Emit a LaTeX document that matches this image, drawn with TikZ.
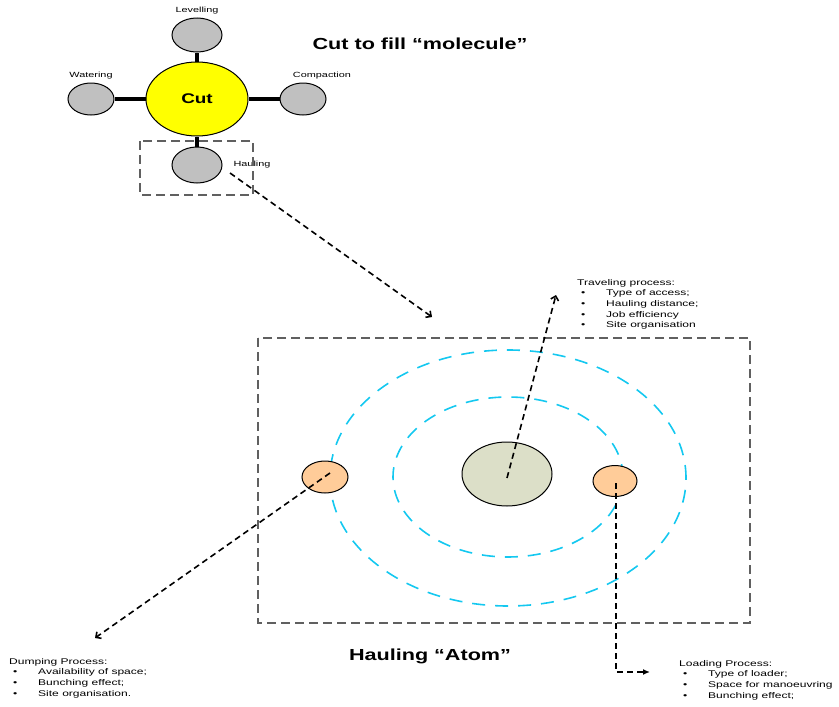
\documentclass[tikz,border=0pt]{standalone}
\usepackage{fontspec}
\setmainfont{Liberation Sans}
\newfontfamily\widefont[FakeStretch=1.45]{Liberation Sans}
\newfontfamily\widebold[FakeStretch=1.35]{Liberation Sans}
\usetikzlibrary{shapes.geometric,arrows.meta}
\definecolor{satgray}{RGB}{192,192,192}
\definecolor{cutyellow}{RGB}{255,255,0}
\definecolor{nuclgreen}{RGB}{220,223,200}
\definecolor{elecorange}{RGB}{255,204,153}
\definecolor{orbitcyan}{RGB}{20,200,240}
\definecolor{boxgray}{RGB}{96,96,96}
\newcommand{\pitem}[1]{\hspace*{4pt}\makebox[25pt][l]{\textbullet}#1}
\begin{document}
\begin{tikzpicture}[x=1pt,y=-1pt,
  sat/.style={ellipse,draw,line width=1pt,fill=satgray,inner sep=0pt,minimum width=48pt,minimum height=33pt},
  link/.style={line width=3.5pt},
  lbl/.style={font=\widefont\fontsize{7.5}{9}\selectfont,inner sep=0pt},
  proc/.style={font=\widefont\fontsize{8.3}{10.6}\selectfont,inner sep=0pt,align=left,anchor=north west},
  ttl/.style={font=\widebold\bfseries\fontsize{16}{18}\selectfont,inner sep=0pt},
  zone/.style={draw=boxgray,line width=2.4pt,dash pattern=on 9pt off 5pt},
  orbit/.style={draw=orbitcyan,line width=1.6pt,dash pattern=on 13pt off 10pt},
  flow/.style={line width=1.6pt,dash pattern=on 6pt off 4pt,-{Straight Barb[length=4pt,width=8pt]}}]
\useasboundingbox (0,0) rectangle (839,707);
% molecule
\node[ellipse,draw,line width=1pt,fill=cutyellow,inner sep=0pt,minimum width=102pt,minimum height=74pt,
  font=\widebold\bfseries\fontsize{14}{16}\selectfont] (cut) at (197,99) {Cut};
\node[sat,minimum width=50pt,minimum height=34pt] (level) at (197,35) {};
\node[sat,minimum width=46pt,minimum height=32pt] (water) at (91,99) {};
\node[sat,minimum width=46pt,minimum height=32pt] (compact) at (303,99) {};
\node[sat,minimum width=50pt,minimum height=36pt] (haul) at (197,165) {};
\draw[link] (cut) -- (level);
\draw[link] (cut) -- (water);
\draw[link] (cut) -- (compact);
\draw[link] (cut) -- (haul);
\node[lbl] at (197,11) {Levelling};
\node[lbl] at (91,76) {Watering};
\node[lbl] at (322,76) {Compaction};
\node[lbl] at (252,165) {Hauling};
\draw[zone] (140,141) rectangle (253,195);
\node[ttl] at (420,44) {Cut to fill “molecule”};
\coordinate (haulout) at (230,173);
\coordinate (atomin) at (432,317);
\draw[flow] (haulout) -- (atomin);
% atom
\draw[zone] (258,338) rectangle (750,623);
\draw[orbit] (508,478) ellipse [x radius=178pt,y radius=128pt];
\draw[orbit] (508,477) ellipse [x radius=115pt,y radius=80pt];
\node[ellipse,draw,line width=1pt,fill=nuclgreen,inner sep=0pt,minimum width=90pt,minimum height=64pt] (nucleus) at (507,474) {};
\node[ellipse,draw,line width=1pt,fill=elecorange,inner sep=0pt,minimum width=46pt,minimum height=32pt] (eleft) at (325,477) {};
\node[ellipse,draw,line width=1pt,fill=elecorange,inner sep=0pt,minimum width=44pt,minimum height=31pt] (eright) at (615,481) {};
\coordinate (travtip) at (556,295);
\coordinate (dumptip) at (95,638);
\coordinate (loadtip) at (650,672);
\draw[flow] (nucleus.center) ++(0,4) -- (travtip);
\draw[flow] (eleft.center) ++(5,-4) -- (dumptip);
\draw[flow,-{Latex[length=7pt,width=6pt]}] (eright.center) ++(1,2) |- (loadtip);
\node[ttl] at (430,656) {Hauling “Atom”};
\node[proc] (trav) at (577,279) {Traveling process:\\ \pitem{Type of access;}\\ \pitem{Hauling distance;}\\ \pitem{Job efficiency}\\ \pitem{Site organisation}};
\node[proc] (dump) at (9,658) {Dumping Process:\\ \pitem{Availability of space;}\\ \pitem{Bunching effect;}\\ \pitem{Site organisation.}};
\node[proc] (load) at (679,660) {Loading Process:\\ \pitem{Type of loader;}\\ \pitem{Space for manoeuvring}\\ \pitem{Bunching effect;}};
\end{tikzpicture}
\end{document}
